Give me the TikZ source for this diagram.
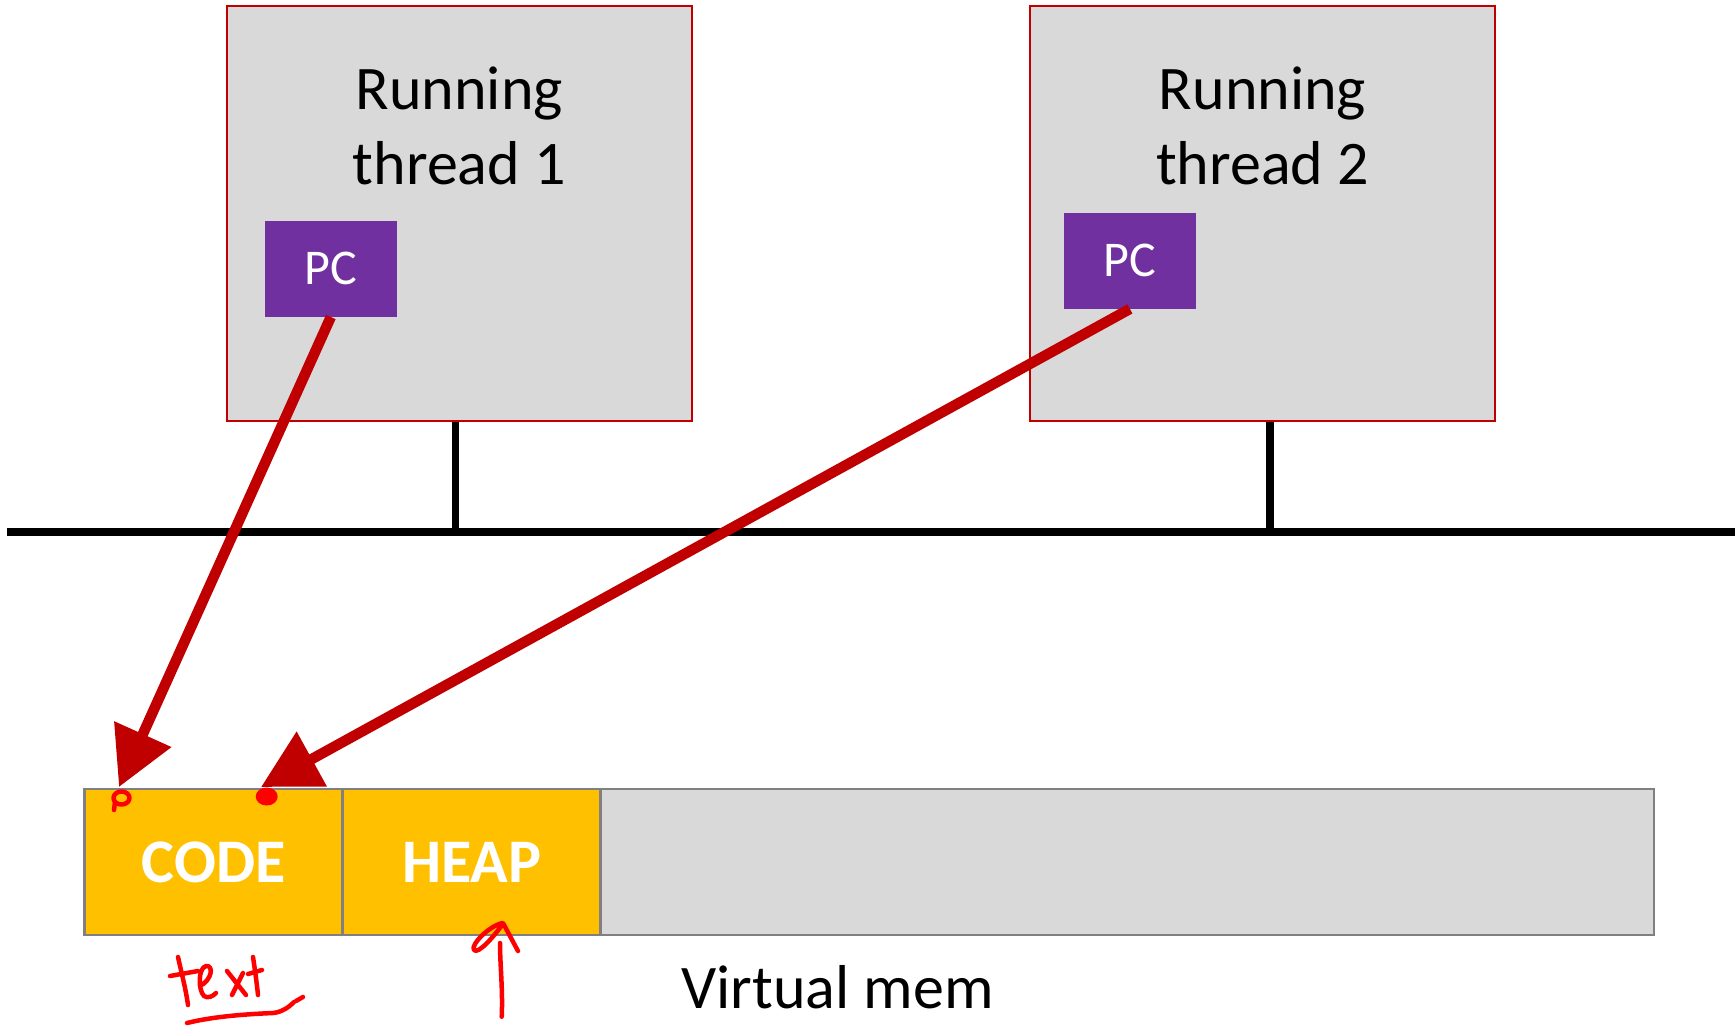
\documentclass[tikz,border=0pt]{standalone}
\usepackage{fontspec}
\setmainfont{Carlito}
\usetikzlibrary{arrows.meta}
\definecolor{boxgray}{HTML}{D9D9D9}
\definecolor{darkred}{HTML}{C00000}
\definecolor{pcpurple}{HTML}{7030A0}
\definecolor{memorange}{HTML}{FFC000}
\definecolor{memedge}{HTML}{808080}
\definecolor{ink}{HTML}{FF0000}
\begin{document}
\begin{tikzpicture}[x=1pt,y=-1pt,
  threadbox/.style={draw=darkred, line width=2pt, fill=boxgray, inner sep=0pt,
    minimum width=465pt, minimum height=415pt},
  threadtext/.style={align=center, inner sep=0pt, font=\fontsize{62}{75}\selectfont},
  pcbox/.style={fill=pcpurple, text=white, inner sep=0pt, minimum width=132pt,
    minimum height=96pt, font=\fontsize{50}{60}\selectfont},
  membox/.style={draw=memedge, line width=2.5pt, inner sep=0pt, minimum height=146pt},
  memseg/.style={membox, fill=memorange, text=white, minimum width=258pt,
    font=\fontsize{62}{75}\selectfont\bfseries},
  bus/.style={line width=7.5pt},
  pointer/.style={darkred, line width=10.5pt, -{Triangle[length=58pt,width=60pt]}},
  scribble/.style={ink, line width=4.5pt, line cap=round, line join=round}]
\useasboundingbox (0,0) rectangle (1735,1028);

% two threads sharing the address space
\node[threadbox] (t1) at (459.3,213) {};
\node[threadbox] (t2) at (1262.5,213) {};
\node[threadtext, anchor=base] (t1text) at (459.3,184.5) {Running\\thread 1};
\node[threadtext, anchor=base] (t2text) at (1262.5,184.5) {Running\\thread 2};
\node[pcbox] (pc1) at (330.8,268.8) {PC};
\node[pcbox] (pc2) at (1129.9,260.7) {PC};

% bus
\coordinate (busL) at (6.6,532);
\coordinate (busR) at (1735,532);
\draw[bus] ([xshift=-4pt]t1.south) -- ([xshift=-4pt]t1.south |- busL);
\draw[bus] ([xshift=7.5pt]t2.south) -- ([xshift=7.5pt]t2.south |- busL);
\draw[bus] (busL) -- (busR);

% virtual memory
\node[membox, fill=boxgray, minimum width=1053pt] (rest) at (1127.4,862) {};
\node[memseg] (code) at (213.6,862) {CODE};
\node[memseg] (heap) at (471.7,862) {HEAP};
\node[anchor=base, inner sep=0pt, font=\fontsize{62}{75}\selectfont] (vmem) at (837.6,1008) {Virtual mem};

% program counters
\coordinate (tip1) at (119,787);
\coordinate (tip2) at (261,787);
\draw[pointer] (pc1.south) -- (tip1);
\draw[pointer] (pc2.south) -- (tip2);

% ink notes
\draw[scribble] (121.5,798) ellipse [x radius=8pt, y radius=6.5pt];
\draw[scribble] (115,802) -- (114,810);
\fill[ink] (266.7,796.5) ellipse [x radius=11pt, y radius=9pt];
\draw[scribble] (178,957) .. controls (182,975) and (186,990) .. (188,1005);
\draw[scribble] (170,976) -- (198,971);
\draw[scribble] (200,986) .. controls (212,980) and (214,965) .. (206,966)
  .. controls (198,968) and (198,990) .. (204,996) .. controls (208,999) and (213,996) .. (216,993);
\draw[scribble] (227,971) -- (246,995);
\draw[scribble] (243,973) -- (232,995);
\draw[scribble] (253,957) .. controls (255,970) and (257,985) .. (258,995);
\draw[scribble] (248,974) -- (262,970);
\draw[scribble] (187,1023) .. controls (215,1016) and (250,1014) .. (273,1013)
  .. controls (283,1012) and (290,1006) .. (294,1002);
\draw[scribble] (296,1001) -- (303,997);
\draw[scribble] (501.7,1016.7) .. controls (503,990) and (500,965) .. (500,943);
\draw[scribble] (518,951) -- (503,923) .. controls (490,925) and (470,945) .. (474,950)
  .. controls (478,955) and (495,935) .. (502,925);
\end{tikzpicture}
\end{document}
